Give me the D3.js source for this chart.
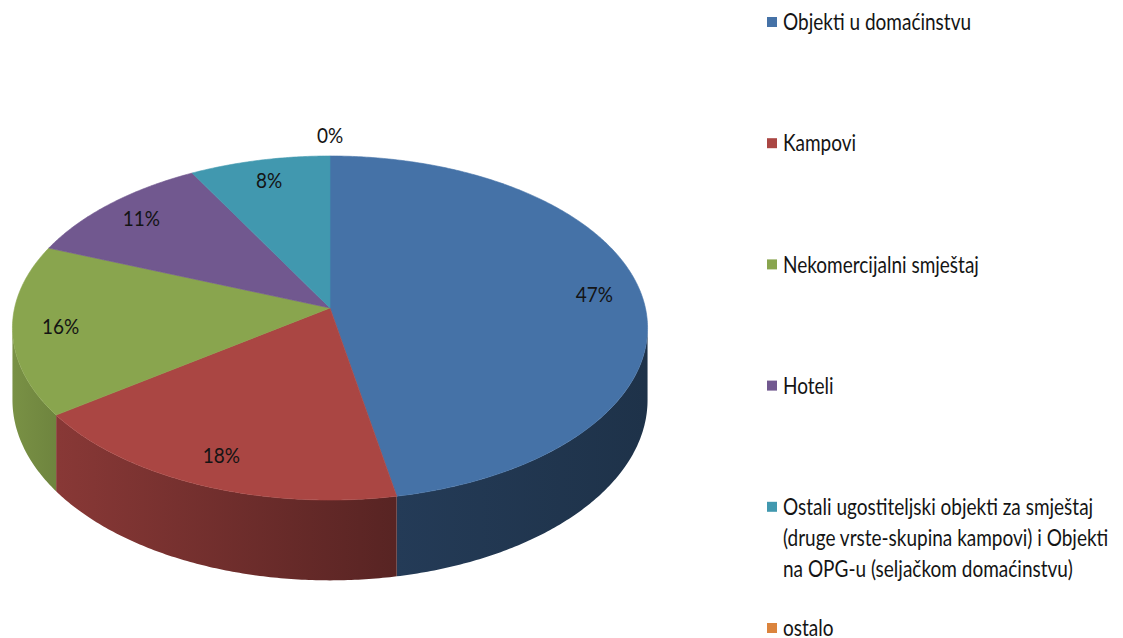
<!DOCTYPE html>
<meta charset="utf-8">
<html>
<head>
<script src="https://d3js.org/d3.v7.min.js"></script>
<style>
  body { margin: 0; background: #fff; }
  text { font-family: Lato, "Open Sans", sans-serif; fill: #141414; }
</style>
</head>
<body>
<div id="pie_viz"></div>
<script>
// data
var categories = [
  "Objekti u domaćinstvu",
  "Kampovi",
  "Nekomercijalni smještaj",
  "Hoteli",
  "Ostali ugostiteljski objekti za smještaj (druge vrste-skupina kampovi) i Objekti na OPG-u (seljačkom domaćinstvu)",
  "ostalo"
];
var shares = [47, 18, 16, 11, 8, 0];
var colors = ["#4572a7", "#aa4643", "#89a54e", "#71588f", "#4198af", "#db843d"];

var width = 1123, height = 638;

// 3D pie geometry (tilted circle with a bit of perspective)
var cx = 330, cy = 308;   // apparent centre of the disc
var R = 315.4, H = 169.7; // horizontal / vertical half axes
var k = 0.1163;           // perspective strength
var depth = 71;           // thickness of the disc

function proj(theta, r) {
  var X = Math.sin(theta) * r, Z = Math.cos(theta) * r;
  var s = 1 / (1 + k * Z);
  return [cx + R * X * s, cy - H * Z * s];
}
function projBottom(theta) {
  var Z = Math.cos(theta);
  var s = 1 / (1 + k * Z);
  var p = proj(theta, 1);
  return [p[0], p[1] + depth * s];
}
function arcPoints(a0, a1, f) {
  var n = Math.max(2, Math.ceil((a1 - a0) / 0.01));
  return d3.range(n + 1).map(i => f(a0 + (a1 - a0) * i / n));
}

var pie = d3.pie().sort(null).value(d => d.v);
var arcs = pie(categories.map((c, i) => ({ name: c, v: shares[i], color: colors[i] })));

var svg = d3.select("#pie_viz")
  .append("svg")
  .attr("width", width)
  .attr("height", height)
  .attr("viewBox", [0, 0, width, height]);

var defs = svg.append("defs");

// side shading: darker towards the right
var xShade = d3.scaleLinear()
  .domain([12, 58, 395, 647])
  .range([0.88, 0.8, 0.52, 0.44]);

arcs.forEach((d, i) => {
  var c = d3.rgb(d.data.color);
  var g = defs.append("linearGradient")
    .attr("id", "side" + i)
    .attr("gradientUnits", "userSpaceOnUse")
    .attr("x1", 12).attr("x2", 647).attr("y1", 0).attr("y2", 0);
  xShade.domain().forEach(x => {
    var f = xShade(x);
    g.append("stop")
      .attr("offset", (x - 12) / (647 - 12))
      .attr("stop-color", d3.rgb(c.r * f, c.g * f, c.b * f).formatHex());
  });
});

// visible front wall runs where cos(theta) < -k
var sideStart = Math.acos(-k), sideEnd = 2 * Math.PI - Math.acos(-k);
var line = d3.line();

var sides = svg.append("g");
arcs.forEach((d, i) => {
  var a0 = Math.max(d.startAngle, sideStart), a1 = Math.min(d.endAngle, sideEnd);
  if (a1 <= a0) return;
  var top = arcPoints(a0, a1, t => proj(t, 1));
  var bot = arcPoints(a0, a1, projBottom).reverse();
  sides.append("path")
    .attr("d", line(top.concat(bot)) + "Z")
    .attr("fill", "url(#side" + i + ")");
});

var tops = svg.append("g");
arcs.forEach(d => {
  if (d.endAngle - d.startAngle <= 0) return;
  var pts = [[cx, cy]].concat(arcPoints(d.startAngle, d.endAngle, t => proj(t, 1)));
  tops.append("path")
    .attr("d", line(pts) + "Z")
    .attr("fill", d.data.color)
    .attr("stroke", d.data.color)
    .attr("stroke-width", 0.6);
});

// percentage labels
var labels = svg.append("g");
arcs.forEach(d => {
  var mid = (d.startAngle + d.endAngle) / 2;
  var p = proj(mid, d.data.v > 0 ? 0.85 : 1.15);
  labels.append("text")
    .attr("transform", `translate(${p[0]},${p[1]}) scale(1,1.12)`)
    .attr("text-anchor", "middle")
    .attr("dy", "0.35em")
    .style("font-size", "19px")
    .text(d3.format(".0f")(d.data.v) + "%");
});

// legend
var legendX = 767, legendY0 = 22, legendStep = 121.2, lineH = 31, maxW = 336, sy = 1.22;
var legend = svg.append("g");
arcs.forEach((d, i) => {
  var y = legendY0 + i * legendStep;
  var item = legend.append("g");
  item.append("rect")
    .attr("x", legendX).attr("y", y - 5)
    .attr("width", 10).attr("height", 10)
    .attr("fill", d.data.color);
  var t = item.append("text")
    .attr("transform", `translate(${legendX + 16},${y}) scale(1,${sy})`)
    .style("font-size", "19px");
  // simple word wrap
  var words = d.data.name.split(" "), cur = [], lineNo = 0;
  var tsp = t.append("tspan").attr("x", 0).attr("y", 0).attr("dy", "0.35em");
  words.forEach(w => {
    cur.push(w);
    tsp.text(cur.join(" "));
    if (tsp.node().getComputedTextLength() > maxW && cur.length > 1) {
      cur.pop();
      tsp.text(cur.join(" "));
      cur = [w];
      lineNo++;
      tsp = t.append("tspan")
        .attr("x", 0)
        .attr("y", lineNo * lineH / sy)
        .attr("dy", "0.35em")
        .text(w);
    }
  });
});
</script>
</body>
</html>
